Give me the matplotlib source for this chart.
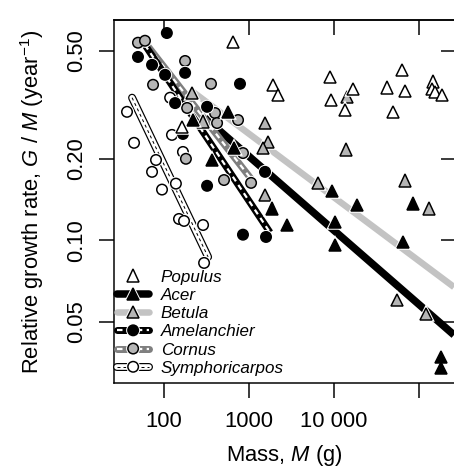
import matplotlib
matplotlib.use("Agg")
import matplotlib.pyplot as plt
import matplotlib.patheffects as pe
from matplotlib.lines import Line2D
import numpy as np

plt.rcParams['font.family'] = ['Liberation Sans', 'DejaVu Sans']
plt.rcParams['mathtext.fontset'] = 'custom'
plt.rcParams['mathtext.rm'] = 'Liberation Sans'
plt.rcParams['mathtext.it'] = 'Liberation Sans:italic'
plt.rcParams['mathtext.bf'] = 'Liberation Sans:bold'

# ---------------- data (mass in g, relative growth rate in 1/year) -------------
populus_m = [649, 1914, 2193, 8970, 9220, 16740, 13460, 63100, 42100, 68400,
             49400, 146000, 142000, 154000, 186000, 163]
populus_g = [0.54, 0.375, 0.344, 0.401, 0.330, 0.362, 0.303, 0.426, 0.366, 0.356,
             0.298, 0.385, 0.362, 0.353, 0.344, 0.262]

acer_m = [219, 566, 367, 666, 1866, 2800, 9460, 10270, 10270, 18660, 84900, 64900,
          181700, 181700]
acer_g = [0.278, 0.298, 0.198, 0.219, 0.131, 0.114, 0.152, 0.117, 0.0962, 0.135,
          0.137, 0.0986, 0.0372, 0.0338]

betula_m = [213, 288, 1542, 1674, 1462, 1542, 6490, 14220, 13840, 68400, 131000,
            55100, 121000]
betula_g = [0.350, 0.274, 0.271, 0.231, 0.219, 0.147, 0.163, 0.338, 0.216, 0.166,
            0.131, 0.0603, 0.0536]

amel_m = [108, 49.4, 72.3, 103, 177, 135, 321, 167, 783, 1542, 321, 849, 1585]
amel_g = [0.582, 0.475, 0.444, 0.408, 0.415, 0.321, 0.311, 0.247, 0.378, 0.179,
          0.159, 0.105, 0.103]

cornus_m = [49.4, 59.7, 177, 74.3, 357, 187, 398, 421, 743, 849, 181, 508, 1057]
cornus_g = [0.536, 0.545, 0.459, 0.375, 0.378, 0.308, 0.295, 0.271, 0.278, 0.210,
            0.200, 0.167, 0.163]

symph_m = [36.7, 44.4, 124, 80.5, 72.3, 94.7, 138, 167, 118, 150, 172, 288, 296]
symph_g = [0.298, 0.229, 0.245, 0.198, 0.179, 0.154, 0.162, 0.212, 0.336, 0.120,
           0.118, 0.114, 0.0826]

# fitted lines (end points)
acer_fit_m = [303, 258000]
acer_fit_g = [0.283, 0.0448]
betula_fit_m = [219, 258000]
betula_fit_g = [0.353, 0.0673]
amel_fit_m = [59.7, 1766]
amel_fit_g = [0.526, 0.107]
cornus_fit_m = [56.6, 1084]
cornus_fit_g = [0.549, 0.167]
symph_fit_m = [42.1, 330]
symph_fit_g = [0.336, 0.0869]

x_ticks = [100, 1000, 10000, 100000]
x_ticklabels = ['100', '1000', '10 000', '']
y_ticks = [0.05, 0.10, 0.20, 0.50]
y_ticklabels = ['0.05', '0.10', '0.20', '0.50']

# ---------------- figure ----------------
W, H = 454, 469
fig = plt.figure(figsize=(W / 72, H / 72), dpi=72)
ax = fig.add_axes([114 / W, (H - 383) / H, 341 / W, 363 / H])
ax.set_xscale('log')
ax.set_yscale('log')
ax.set_xlim(25.8, 265000)
ax.set_ylim(0.0298, 0.650)

GRAY_FILL = '#b5b5b5'
halo = [pe.Stroke(linewidth=3.5, foreground='white'), pe.Normal()]

# fitted lines
ax.plot(betula_fit_m, betula_fit_g, color='#c3c3c3', lw=6.5, solid_capstyle='butt', zorder=2)
ax.plot(acer_fit_m, acer_fit_g, color='black', lw=7.5, solid_capstyle='butt', zorder=2.1)

ax.plot(cornus_fit_m, cornus_fit_g, color='#7f7f7f', lw=7, solid_capstyle='butt', zorder=2.2)
ax.plot(cornus_fit_m, cornus_fit_g, color='white', lw=2.2, dashes=(2.5, 2), zorder=2.3)

ax.plot(amel_fit_m, amel_fit_g, color='black', lw=7, solid_capstyle='butt', zorder=2.4)
ax.plot(amel_fit_m, amel_fit_g, color='white', lw=2.2, dashes=(2.5, 2), zorder=2.5)

ax.plot(symph_fit_m, symph_fit_g, color='black', lw=8, solid_capstyle='round', zorder=2.6)
ax.plot(symph_fit_m, symph_fit_g, color='white', lw=5.6, solid_capstyle='round', zorder=2.7)
ax.plot(symph_fit_m, symph_fit_g, color='black', lw=1.0, dashes=(3, 3), zorder=2.8)

# points
def pts(m, g, marker, fc, ms):
    ax.plot(m, g, ls='none', marker=marker, mfc=fc, mec='black', mew=1.5, ms=ms,
            zorder=4, path_effects=halo)

pts(symph_m, symph_g, 'o', 'white', 10.5)
pts(cornus_m, cornus_g, 'o', GRAY_FILL, 10.5)
pts(amel_m, amel_g, 'o', 'black', 10.5)
pts(betula_m, betula_g, '^', GRAY_FILL, 12.5)
pts(acer_m, acer_g, '^', 'black', 12.5)
pts(populus_m, populus_g, '^', 'white', 12.5)

# axes styling
ax.spines['right'].set_visible(False)
for s in ['left', 'bottom', 'top']:
    ax.spines[s].set_linewidth(1.5)
ax.minorticks_off()
ax.set_xticks(x_ticks)
ax.set_xticklabels(x_ticklabels)
ax.set_yticks(y_ticks)
ax.set_yticklabels(y_ticklabels, rotation=90, va='center')
ax.tick_params(axis='both', which='major', direction='out', length=15, width=1.5,
               labelsize=22)
ax.tick_params(axis='y', pad=12)
ax.tick_params(axis='x', pad=13)

ax.set_xlabel('Mass, $M$ (g)', fontsize=22, labelpad=11)
ax.set_ylabel('Relative growth rate, $G$ / $M$ (year$^{-1}$)', fontsize=22, labelpad=20)

# top and right inward ticks
axt = ax.twiny()
axt.set_xscale('log')
axt.set_xlim(ax.get_xlim())
axt.set_xticks(x_ticks)
axt.minorticks_off()
axt.tick_params(axis='x', direction='in', length=15, width=1.5, labeltop=False, top=True)
axr = ax.twinx()
axr.set_yscale('log')
axr.set_ylim(ax.get_ylim())
axr.set_yticks(y_ticks)
axr.minorticks_off()
axr.tick_params(axis='y', direction='in', length=14, width=1.5, labelright=False, right=True)
for a in (axt, axr):
    a.patch.set_visible(False)
    for s in a.spines.values():
        s.set_visible(False)
axt.spines['top'].set_visible(True)
axt.spines['top'].set_linewidth(1.5)

# legend
def mk(marker, fc, ms):
    return Line2D([], [], ls='none', marker=marker, mfc=fc, mec='black', mew=1.5, ms=ms,
                  path_effects=halo)

h_pop = mk('^', 'white', 12.5)
h_acer = (Line2D([], [], color='black', lw=7.5, solid_capstyle='round'), mk('^', 'black', 12.5))
h_bet = (Line2D([], [], color='#c3c3c3', lw=6.5, solid_capstyle='round'), mk('^', GRAY_FILL, 12.5))
h_amel = (Line2D([], [], color='black', lw=7, solid_capstyle='round'),
          Line2D([], [], color='white', lw=2.2, dashes=(2.5, 2)), mk('o', 'black', 10.5))
h_corn = (Line2D([], [], color='#7f7f7f', lw=7, solid_capstyle='round'),
          Line2D([], [], color='white', lw=2.2, dashes=(2.5, 2)), mk('o', GRAY_FILL, 10.5))
h_sym = (Line2D([], [], color='black', lw=8, solid_capstyle='round'),
         Line2D([], [], color='white', lw=5.6, solid_capstyle='round'),
         Line2D([], [], color='black', lw=1.0, dashes=(3, 3)), mk('o', 'white', 10.5))

leg = ax.legend([h_pop, h_acer, h_bet, h_amel, h_corn, h_sym],
                ['Populus', 'Acer', 'Betula', 'Amelanchier', 'Cornus', 'Symphoricarpos'],
                loc='lower left', bbox_to_anchor=(0.01, 0.02), frameon=False,
                prop={'style': 'italic', 'size': 17, 'family': 'Liberation Sans'},
                handlelength=1.85, handletextpad=0.7, labelspacing=0.19,
                borderpad=0, borderaxespad=0, numpoints=1)
leg.set_zorder(10)

fig.savefig('out.png', dpi=72)
